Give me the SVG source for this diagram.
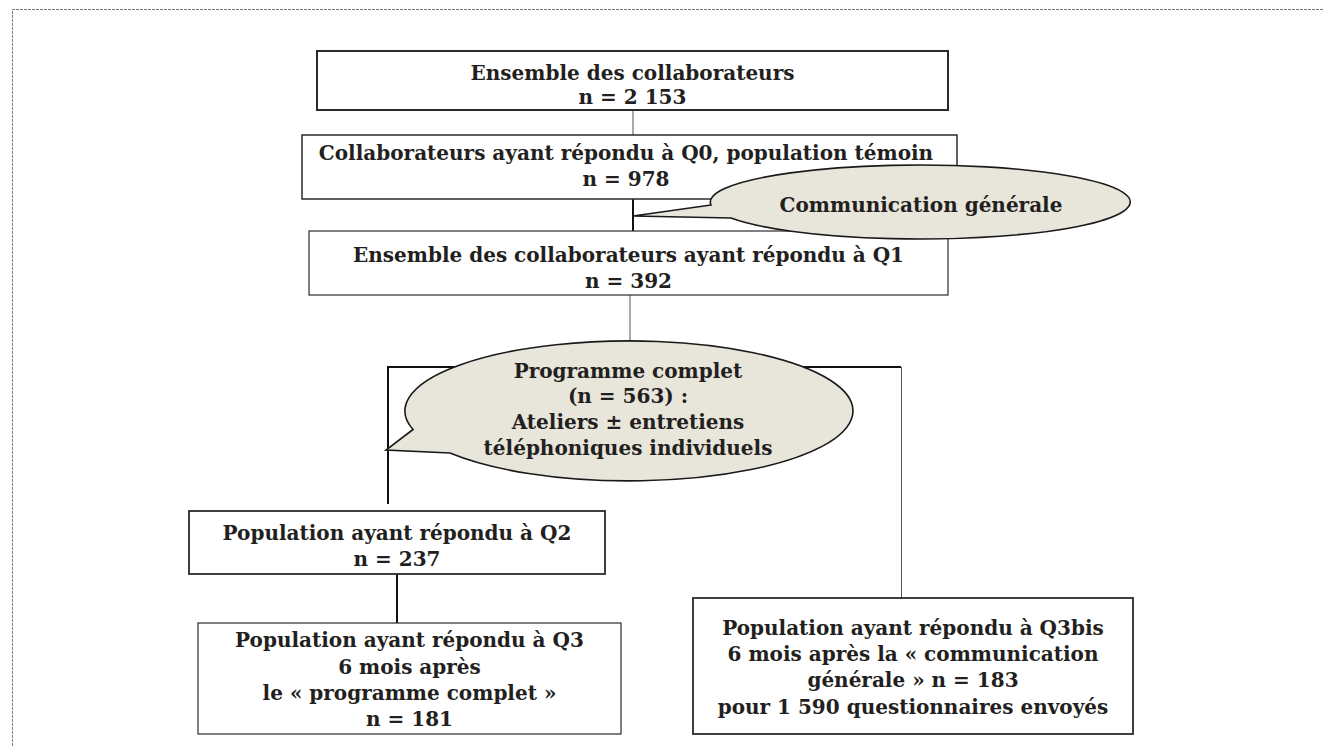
<svg xmlns="http://www.w3.org/2000/svg" width="1324" height="746" viewBox="0 0 1324 746">
<style>
.t{font-family:"DejaVu Serif","Liberation Serif",serif;font-weight:bold;font-size:20px;fill:#231f20;text-anchor:middle}
.box{fill:#fff;stroke:#2b2b2b}
.call{fill:#e8e6db;stroke:#1a1a1a;stroke-width:1.6}
.thin{stroke:#555;stroke-width:1;fill:none}
.thick{stroke:#111;stroke-width:2;fill:none}
</style>
<rect x="0" y="0" width="1324" height="746" fill="#fff"/>
<path d="M12.5 746 V9.5 H1324" fill="none" stroke="#777" stroke-width="1" stroke-dasharray="3 1"/>
<g id="connectors">
<line class="thin" x1="633" y1="110" x2="633" y2="135"/>
<line class="thick" x1="633" y1="199" x2="633" y2="231"/>
<line class="thin" x1="630" y1="295" x2="630" y2="345"/>
<polyline class="thick" points="388,504 388,367 901,367"/>
<line class="thin" x1="901.5" y1="367" x2="901.5" y2="598" stroke-width="1.3"/>
<line class="thick" x1="397" y1="574" x2="397" y2="623"/>
</g>
<g id="n1">
<rect class="box" x="317" y="51" width="631" height="59" stroke-width="2"/>
<text class="t" x="632.5" y="80">Ensemble des collaborateurs</text>
<text class="t" x="632.5" y="104">n = 2 153</text>
</g>
<g id="n2">
<rect class="box" x="302" y="135" width="655" height="64" stroke-width="1.5"/>
<text class="t" x="626" y="160">Collaborateurs ayant répondu à Q0, population témoin</text>
<text class="t" x="626" y="186">n = 978</text>
</g>
<g id="n3">
<rect class="box" x="309" y="231" width="639" height="64" stroke-width="1.2"/>
<text class="t" x="628.5" y="262">Ensemble des collaborateurs ayant répondu à Q1</text>
<text class="t" x="628.5" y="288">n = 392</text>
</g>
<g id="c1">
<path class="call" d="M711 205 L633 216 L731 218 A210 37 0 1 0 711 205 Z"/>
<text class="t" x="921" y="212">Communication générale</text>
</g>
<g id="c2">
<path class="call" d="M413 429.5 L386 450 L450 453 A224 70 0 1 0 413 429.5 Z"/>
<text class="t" x="628" y="378">Programme complet</text>
<text class="t" x="628" y="403">(n = 563) :</text>
<text class="t" x="628" y="429">Ateliers ± entretiens</text>
<text class="t" x="628" y="455">téléphoniques individuels</text>
</g>
<g id="n4">
<rect class="box" x="189" y="511" width="416" height="63" stroke-width="1.8"/>
<text class="t" x="397" y="540">Population ayant répondu à Q2</text>
<text class="t" x="397" y="566">n = 237</text>
</g>
<g id="n5">
<rect class="box" x="198" y="623" width="423" height="111" stroke-width="1.2"/>
<text class="t" x="409.5" y="647">Population ayant répondu à Q3</text>
<text class="t" x="409.5" y="674">6 mois après</text>
<text class="t" x="409.5" y="700">le « programme complet »</text>
<text class="t" x="409.5" y="726">n = 181</text>
</g>
<g id="n6">
<rect class="box" x="693" y="598" width="440" height="136" stroke-width="1.8"/>
<text class="t" x="913" y="635">Population ayant répondu à Q3bis</text>
<text class="t" x="913" y="661">6 mois après la « communication</text>
<text class="t" x="913" y="687">générale » n = 183</text>
<text class="t" x="913" y="714">pour 1 590 questionnaires envoyés</text>
</g>
</svg>
